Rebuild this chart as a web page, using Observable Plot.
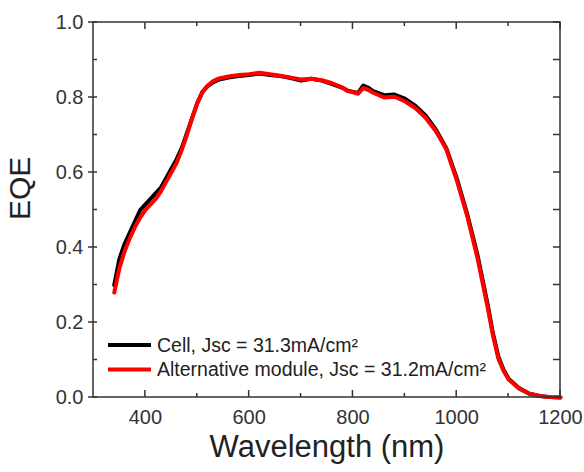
<!DOCTYPE html>
<html>
<head>
<meta charset="utf-8">
<script src="https://cdn.jsdelivr.net/npm/d3@7"></script>
<script src="https://cdn.jsdelivr.net/npm/@observablehq/plot@0.6"></script>
<style>
  html, body { margin: 0; padding: 0; background: #fff; }
  #chart svg { display: block; }
</style>
</head>
<body>
<div id="chart"></div>
<script>
// External quantum efficiency spectra (wavelength in nm)
const wavelength = [340, 350, 360, 370, 380, 390, 400, 410, 420, 430, 440, 450, 460, 470, 480, 490,
  500, 510, 520, 530, 540, 560, 580, 600, 620, 640, 660, 680, 700, 720, 740, 760, 780, 790, 800,
  810, 820, 830, 840, 860, 880, 900, 920, 940, 960, 980, 1000, 1020, 1040, 1060, 1070, 1080, 1090,
  1100, 1120, 1140, 1160, 1180, 1200];

const eqeCell = [0.300, 0.370, 0.410, 0.440, 0.470, 0.500, 0.515, 0.530, 0.545, 0.560, 0.585, 0.610,
  0.635, 0.665, 0.705, 0.745, 0.785, 0.815, 0.830, 0.840, 0.847, 0.853, 0.857, 0.860, 0.864, 0.860,
  0.857, 0.852, 0.845, 0.850, 0.845, 0.836, 0.826, 0.818, 0.815, 0.812, 0.832, 0.826, 0.816, 0.806,
  0.808, 0.797, 0.778, 0.752, 0.714, 0.664, 0.585, 0.490, 0.380, 0.245, 0.170, 0.110, 0.075, 0.050,
  0.025, 0.010, 0.004, 0.001, 0.000];

const eqeModule = [0.280, 0.345, 0.390, 0.425, 0.455, 0.480, 0.500, 0.515, 0.530, 0.550, 0.575, 0.600,
  0.625, 0.660, 0.700, 0.745, 0.785, 0.815, 0.832, 0.843, 0.850, 0.856, 0.860, 0.862, 0.866, 0.862,
  0.858, 0.853, 0.848, 0.850, 0.846, 0.838, 0.826, 0.817, 0.814, 0.810, 0.825, 0.820, 0.812, 0.800,
  0.802, 0.790, 0.772, 0.746, 0.710, 0.662, 0.580, 0.485, 0.372, 0.238, 0.165, 0.105, 0.072, 0.048,
  0.024, 0.010, 0.004, 0.001, 0.000];

const seriesNames = ["Cell, Jsc = 31.3mA/cm²", "Alternative module, Jsc = 31.2mA/cm²"];
const seriesColors = ["#000000", "#ff0000"];

const xMajorTicks = [400, 600, 800, 1000, 1200];
const xMinorTicks = [500, 700, 900, 1100];
const yMajorTicks = [0.0, 0.2, 0.4, 0.6, 0.8, 1.0];
const yMinorTicks = [0.1, 0.3, 0.5, 0.7, 0.9];

const xTitle = "Wavelength (nm)";
const yTitle = "EQE";

const seriesValues = [eqeCell, eqeModule];
const rows = seriesNames.flatMap((name, s) =>
  wavelength.map((w, i) => ({series: name, w, eqe: seriesValues[s][i]}))
);

const axisColor = "#333";
const fontStack = "Liberation Sans, Arial, sans-serif";

// Boxed frame with inward ticks on bottom, top and right, crossing ticks on the left
function frameWithTicks(index, scales, values, dims) {
  const {x, y} = scales;
  const L = dims.marginLeft, R = dims.width - dims.marginRight;
  const T = dims.marginTop, B = dims.height - dims.marginBottom;
  const g = d3.create("svg:g")
    .attr("stroke", axisColor).attr("stroke-width", 1.5).attr("fill", "none");
  g.append("rect").attr("x", L).attr("y", T).attr("width", R - L).attr("height", B - T);
  const seg = (x1, y1, x2, y2) =>
    g.append("line").attr("x1", x1).attr("y1", y1).attr("x2", x2).attr("y2", y2);
  for (const v of xMajorTicks) { const px = x(v); seg(px, B, px, B - 7); seg(px, T, px, T + 7); }
  for (const v of xMinorTicks) { const px = x(v); seg(px, B, px, B - 4); seg(px, T, px, T + 4); }
  for (const v of yMajorTicks) { const py = y(v); seg(L - 5, py, L + 4, py); seg(R, py, R - 7, py); }
  for (const v of yMinorTicks) { const py = y(v); seg(L, py, L + 4, py); seg(R, py, R - 7, py); }
  return g.node();
}

// Legend drawn in the lower-left corner of the frame
function legend(index, scales, values, dims) {
  const L = dims.marginLeft, B = dims.height - dims.marginBottom;
  const g = d3.create("svg:g");
  seriesNames.forEach((name, i) => {
    const cy = B - 52 + i * 24.5;
    g.append("line")
      .attr("x1", L + 15).attr("x2", L + 58).attr("y1", cy).attr("y2", cy)
      .attr("stroke", seriesColors[i]).attr("stroke-width", 4);
    g.append("text")
      .attr("x", L + 64).attr("y", cy).attr("dy", "0.35em")
      .attr("text-anchor", "start")
      .attr("font-family", fontStack)
      .attr("font-size", 19.5).attr("fill", "#222")
      .text(name);
  });
  return g.node();
}

const chart = Plot.plot({
  width: 584,
  height: 472,
  marginLeft: 93,
  marginRight: 24,
  marginTop: 22,
  marginBottom: 75,
  style: {fontFamily: fontStack, background: "#fff"},
  x: {domain: [300, 1200], label: null},
  y: {domain: [0, 1], label: null},
  color: {domain: seriesNames, range: seriesColors},
  marks: [
    Plot.line(rows, {
      x: "w", y: "eqe", z: "series", stroke: "series",
      strokeWidth: 4, strokeLinejoin: "round", strokeLinecap: "round"
    }),
    frameWithTicks,
    Plot.axisX(xMajorTicks, {
      tickSize: 0, tickPadding: 12, fontSize: 20, fill: axisColor,
      tickFormat: d => String(d), label: null
    }),
    Plot.axisY(yMajorTicks, {
      tickSize: 0, tickPadding: 10, fontSize: 20, fill: axisColor,
      tickFormat: d3.format(".1f"), label: null
    }),
    Plot.text([xTitle], {
      text: d => d, frameAnchor: "bottom", dy: 59, fontSize: 31, fill: "#222"
    }),
    Plot.text([yTitle], {
      text: d => d, frameAnchor: "left", rotate: -90, dx: -73, dy: 10, fontSize: 30, fill: "#222"
    }),
    legend
  ]
});

document.getElementById("chart").appendChild(chart);
</script>
</body>
</html>
